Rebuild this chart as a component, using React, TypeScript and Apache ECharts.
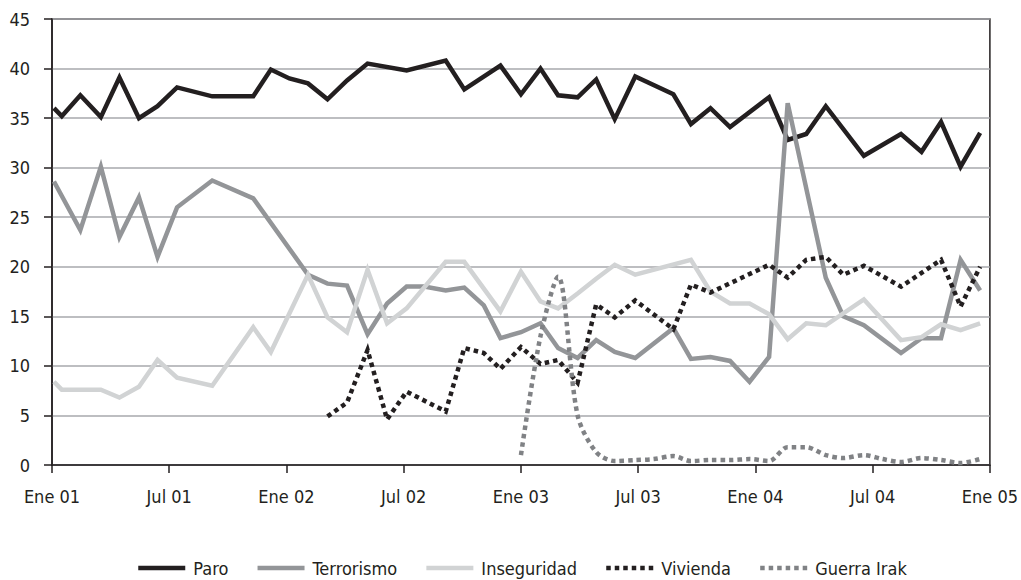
import React, { useEffect, useRef } from "react";
import * as echarts from "echarts";

// month index since Jan 2001 (0 = Ene 01, 48 = Ene 05)
const months = [
  0.1, 0.5, 1.45, 2.5, 3.45, 4.45, 5.4, 6.4, 8.2, 10.3,
  11.2, 12.15, 13.1, 14.1, 15.1, 16.15, 17.15, 18.15, 19.05, 20.15,
  21.1, 22.1, 22.95, 24.0, 25.0, 25.9, 26.9, 27.85, 28.8, 29.85,
  30.8, 31.8, 32.7, 33.7, 34.7, 35.7, 36.7, 37.65, 38.6, 39.6,
  40.5, 41.55, 42.5, 43.45, 44.5, 45.5, 46.5, 47.5,
];

const paro = [
  36.0, 35.2, 37.3, 35.1, 39.1, 35.0, 36.2, 38.1, 37.2, 37.2,
  39.9, 39.0, 38.5, 36.9, 38.8, 40.5, null, 39.8, null, 40.8,
  37.9, null, 40.3, 37.4, 40.0, 37.3, 37.1, 38.9, 34.9, 39.2,
  null, 37.4, 34.4, 36.0, 34.1, null, 37.1, 32.8, 33.4, 36.2,
  null, 31.2, null, 33.4, 31.6, 34.6, 30.1, 33.5,
];

const terrorismo = [
  28.6, null, 23.7, 30.1, 23.0, 27.0, 21.0, 26.0, 28.7, 26.9,
  null, null, 19.2, 18.3, 18.1, 13.2, 16.3, 18.0, 18.0, 17.6,
  17.9, 16.1, 12.8, 13.4, 14.3, 11.8, 10.8, 12.6, 11.4, 10.8,
  null, 13.8, 10.7, 10.9, 10.5, 8.4, 10.9, 36.5, null, 18.9,
  15.0, 14.1, null, 11.3, 12.8, 12.8, 20.7, 17.6,
];

const inseguridad = [
  8.4, 7.6, 7.6, 7.6, 6.8, 7.9, 10.6, 8.8, 8.0, 13.9,
  11.4, null, 19.2, 14.9, 13.4, 19.7, 14.3, 15.8, null, 20.5,
  20.5, null, 15.5, 19.5, 16.5, 15.8, 17.3, 18.8, 20.2, 19.2,
  null, null, 20.7, 17.5, 16.3, 16.3, 15.2, 12.7, 14.3, 14.1,
  null, 16.7, null, 12.6, 12.9, 14.2, 13.6, 14.3,
];

const vivienda = [
  null, null, null, null, null, null, null, null, null, null,
  null, null, null, 4.9, 6.3, 11.6, 4.6, 7.4, null, 5.4,
  11.8, 11.3, 9.7, 11.9, 10.2, 10.6, 8.3, 16.2, 14.9, 16.6,
  null, 13.7, 18.2, 17.4, null, null, 20.2, 18.9, 20.7, 21.0,
  19.2, 20.1, null, 18.0, null, 20.7, 16.0, 20.0,
];

const guerraIrak = [
  null, null, null, null, null, null, null, null, null, null,
  null, null, null, null, null, null, null, null, null, null,
  null, null, null, 1.0, 13.0, 19.0, 5.0, 1.3, 0.4, 0.5,
  0.6, 0.9, 0.4, 0.5, 0.5, 0.6, 0.4, 1.8, 1.8, 1.0,
  0.7, 1.0, 0.6, 0.3, 0.7, 0.5, 0.2, 0.6,
];

const xTickLabels = [
  "Ene 01", "Jul 01", "Ene 02", "Jul 02", "Ene 03",
  "Jul 03", "Ene 04", "Jul 04", "Ene 05",
];

const FONT = "'DejaVu Sans Condensed', Roboto, sans-serif";
const DARK = "#231f20";

function pairs(values: (number | null)[]) {
  const out: [number, number][] = [];
  values.forEach((v, i) => {
    if (v !== null && v !== undefined) out.push([months[i], v]);
  });
  return out;
}

export default function App() {
  const ref = useRef<HTMLDivElement>(null);

  useEffect(() => {
    if (!ref.current) return;
    const chart = echarts.init(ref.current, undefined, { renderer: "svg" });

    const mk = (
      name: string,
      values: (number | null)[],
      color: string,
      dotted: boolean,
      smooth: boolean | number
    ) => ({
      name,
      type: "line",
      data: pairs(values),
      showSymbol: false,
      symbol: "none",
      smooth,
      connectNulls: true,
      itemStyle: { color },
      lineStyle: {
        color,
        width: 4.5,
        type: dotted ? [4.5, 4] : "solid",
        cap: "butt",
        join: "miter",
      },
      emphasis: { disabled: true },
    });

    chart.setOption({
      animation: false,
      backgroundColor: "#ffffff",
      textStyle: { fontFamily: FONT, color: DARK },
      grid: {
        left: 52,
        right: 28,
        top: 19,
        bottom: 115,
        show: true,
        borderColor: DARK,
        borderWidth: 1.5,
      },
      legend: {
        left: 131,
        top: 554,
        itemWidth: 47,
        itemHeight: 14,
        itemGap: 27,
        itemStyle: { opacity: 0 },
        lineStyle: { width: 4.5 },
        textStyle: {
          fontFamily: FONT,
          fontSize: 18,
          color: DARK,
          padding: [0, 0, 0, 3],
        },
        data: ["Paro", "Terrorismo", "Inseguridad", "Vivienda", "Guerra Irak"],
      },
      xAxis: {
        type: "value",
        min: 0,
        max: 48,
        interval: 6,
        axisLine: { show: true, lineStyle: { color: DARK, width: 1.5 } },
        axisTick: { show: true, length: 8, lineStyle: { color: DARK, width: 1.5 } },
        splitLine: { show: false },
        axisLabel: {
          margin: 22,
          fontFamily: FONT,
          fontSize: 18,
          color: DARK,
          formatter: (v: number) => xTickLabels[Math.round(v / 6)] ?? "",
        },
      },
      yAxis: {
        type: "value",
        min: 0,
        max: 45,
        interval: 5,
        axisLine: { show: true, lineStyle: { color: DARK, width: 1.5 } },
        axisTick: { show: true, length: 8, lineStyle: { color: DARK, width: 1.5 } },
        splitLine: { show: true, lineStyle: { color: "#a7a9ac", width: 1.5 } },
        axisLabel: {
          margin: 22,
          fontFamily: FONT,
          fontSize: 18,
          color: DARK,
        },
      },
      series: [
        mk("Paro", paro, DARK, false, false),
        mk("Terrorismo", terrorismo, "#939598", false, false),
        mk("Inseguridad", inseguridad, "#d1d3d4", false, false),
        mk("Vivienda", vivienda, DARK, true, false),
        mk("Guerra Irak", guerraIrak, "#808285", true, 0.3),
      ],
    });

    return () => chart.dispose();
  }, []);

  return (
    <div
      ref={ref}
      style={{ position: "absolute", left: 0, top: 0, width: 1021, height: 580 }}
    />
  );
}
